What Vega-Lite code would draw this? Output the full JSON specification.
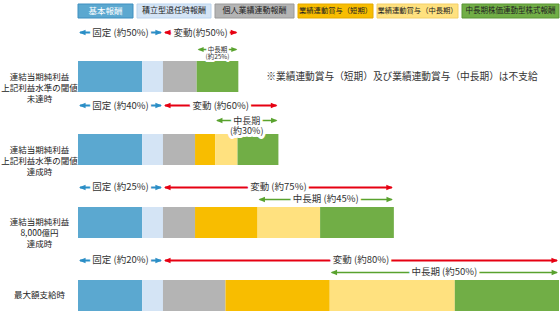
{
  "$schema": "https://vega.github.io/schema/vega-lite/v6.json",
  "padding": {"left": 0, "top": 3, "right": 0, "bottom": 0},
  "config": {"view": {"stroke": null}, "font": "Noto Sans CJK JP"},
  "datasets": {
    "legend": [
      {"comp": "基本報酬"}, {"comp": "積立型退任時報酬"}, {"comp": "個人業績連動報酬"},
      {"comp": "業績連動賞与（短期）"}, {"comp": "業績連動賞与（中長期）"}, {"comp": "中長期株価連動型株式報酬"}
    ],
    "bars": [
      {"r": 1, "row": "連結当期純利益|上記利益水準の閾値|未達時", "k": 1, "comp": "基本報酬", "amount": 40},
      {"r": 1, "row": "連結当期純利益|上記利益水準の閾値|未達時", "k": 2, "comp": "積立型退任時報酬", "amount": 13},
      {"r": 1, "row": "連結当期純利益|上記利益水準の閾値|未達時", "k": 3, "comp": "個人業績連動報酬", "amount": 21},
      {"r": 1, "row": "連結当期純利益|上記利益水準の閾値|未達時", "k": 6, "comp": "中長期株価連動型株式報酬", "amount": 26},
      {"r": 2, "row": "連結当期純利益|上記利益水準の閾値|達成時", "k": 1, "comp": "基本報酬", "amount": 40},
      {"r": 2, "row": "連結当期純利益|上記利益水準の閾値|達成時", "k": 2, "comp": "積立型退任時報酬", "amount": 13},
      {"r": 2, "row": "連結当期純利益|上記利益水準の閾値|達成時", "k": 3, "comp": "個人業績連動報酬", "amount": 20},
      {"r": 2, "row": "連結当期純利益|上記利益水準の閾値|達成時", "k": 4, "comp": "業績連動賞与（短期）", "amount": 12.5},
      {"r": 2, "row": "連結当期純利益|上記利益水準の閾値|達成時", "k": 5, "comp": "業績連動賞与（中長期）", "amount": 14},
      {"r": 2, "row": "連結当期純利益|上記利益水準の閾値|達成時", "k": 6, "comp": "中長期株価連動型株式報酬", "amount": 25.5},
      {"r": 3, "row": "連結当期純利益|8,000億円|達成時", "k": 1, "comp": "基本報酬", "amount": 40},
      {"r": 3, "row": "連結当期純利益|8,000億円|達成時", "k": 2, "comp": "積立型退任時報酬", "amount": 13},
      {"r": 3, "row": "連結当期純利益|8,000億円|達成時", "k": 3, "comp": "個人業績連動報酬", "amount": 20},
      {"r": 3, "row": "連結当期純利益|8,000億円|達成時", "k": 4, "comp": "業績連動賞与（短期）", "amount": 39},
      {"r": 3, "row": "連結当期純利益|8,000億円|達成時", "k": 5, "comp": "業績連動賞与（中長期）", "amount": 39},
      {"r": 3, "row": "連結当期純利益|8,000億円|達成時", "k": 6, "comp": "中長期株価連動型株式報酬", "amount": 46},
      {"r": 4, "row": "最大額支給時", "k": 1, "comp": "基本報酬", "amount": 40},
      {"r": 4, "row": "最大額支給時", "k": 2, "comp": "積立型退任時報酬", "amount": 13},
      {"r": 4, "row": "最大額支給時", "k": 3, "comp": "個人業績連動報酬", "amount": 39},
      {"r": 4, "row": "最大額支給時", "k": 4, "comp": "業績連動賞与（短期）", "amount": 65},
      {"r": 4, "row": "最大額支給時", "k": 5, "comp": "業績連動賞与（中長期）", "amount": 78},
      {"r": 4, "row": "最大額支給時", "k": 6, "comp": "中長期株価連動型株式報酬", "amount": 65}
    ],
    "ann": [
      {"r": 1, "row": "連結当期純利益|上記利益水準の閾値|未達時", "kind": "固定", "start": 0, "end": 53, "label": "固定 (約50%)"},
      {"r": 1, "row": "連結当期純利益|上記利益水準の閾値|未達時", "kind": "変動", "start": 53, "end": 100, "label": "変動(約50%)"},
      {"r": 1, "row": "連結当期純利益|上記利益水準の閾値|未達時", "kind": "中長期", "start": 74, "end": 100, "label": "中長期|(約25%)"},
      {"r": 2, "row": "連結当期純利益|上記利益水準の閾値|達成時", "kind": "固定", "start": 0, "end": 53, "label": "固定 (約40%)"},
      {"r": 2, "row": "連結当期純利益|上記利益水準の閾値|達成時", "kind": "変動", "start": 53, "end": 125, "label": "変動 (約60%)"},
      {"r": 2, "row": "連結当期純利益|上記利益水準の閾値|達成時", "kind": "中長期", "start": 85.5, "end": 125, "label": "中長期|(約30%)"},
      {"r": 3, "row": "連結当期純利益|8,000億円|達成時", "kind": "固定", "start": 0, "end": 53, "label": "固定 (約25%)"},
      {"r": 3, "row": "連結当期純利益|8,000億円|達成時", "kind": "変動", "start": 53, "end": 197, "label": "変動 (約75%)"},
      {"r": 3, "row": "連結当期純利益|8,000億円|達成時", "kind": "中長期", "start": 112, "end": 197, "label": "中長期 (約45%)"},
      {"r": 4, "row": "最大額支給時", "kind": "固定", "start": 0, "end": 53, "label": "固定 (約20%)"},
      {"r": 4, "row": "最大額支給時", "kind": "変動", "start": 53, "end": 300, "label": "変動 (約80%)"},
      {"r": 4, "row": "最大額支給時", "kind": "中長期", "start": 157, "end": 300, "label": "中長期 (約50%)"}
    ]
  },
  "spacing": 8,
  "vconcat": [
    {
      "spacing": 4,
      "bounds": "flush",
      "hconcat": [
        {"width": 55, "height": 14, "data": {"name": "legend"}, "transform": [{"filter": "datum.comp === '基本報酬'"}],
         "layer": [
           {"mark": {"type": "rect", "fill": "#5ba8d0", "stroke": "#3f8fc0", "strokeWidth": 1}, "encoding": {"x": {"field": "comp", "type": "nominal", "axis": null}, "y": {"field": "comp", "type": "nominal", "axis": null}}},
           {"mark": {"type": "text", "fill": "white", "fontSize": 8.5}, "encoding": {"x": {"field": "comp", "type": "nominal", "axis": null}, "y": {"field": "comp", "type": "nominal", "axis": null}, "text": {"field": "comp"}}}
         ]},
        {"width": 74, "height": 14, "data": {"name": "legend"}, "transform": [{"filter": "datum.comp === '積立型退任時報酬'"}],
         "layer": [
           {"mark": {"type": "rect", "fill": "#d4e4f5", "stroke": "#bcd5ee", "strokeWidth": 1}, "encoding": {"x": {"field": "comp", "type": "nominal", "axis": null}, "y": {"field": "comp", "type": "nominal", "axis": null}}},
           {"mark": {"type": "text", "fill": "#222222", "fontSize": 8}, "encoding": {"x": {"field": "comp", "type": "nominal", "axis": null}, "y": {"field": "comp", "type": "nominal", "axis": null}, "text": {"field": "comp"}}}
         ]},
        {"width": 79, "height": 14, "data": {"name": "legend"}, "transform": [{"filter": "datum.comp === '個人業績連動報酬'"}],
         "layer": [
           {"mark": {"type": "rect", "fill": "#b4b4b4", "stroke": "#9a9a9a", "strokeWidth": 1}, "encoding": {"x": {"field": "comp", "type": "nominal", "axis": null}, "y": {"field": "comp", "type": "nominal", "axis": null}}},
           {"mark": {"type": "text", "fill": "#222222", "fontSize": 8}, "encoding": {"x": {"field": "comp", "type": "nominal", "axis": null}, "y": {"field": "comp", "type": "nominal", "axis": null}, "text": {"field": "comp"}}}
         ]},
        {"width": 75, "height": 14, "data": {"name": "legend"}, "transform": [{"filter": "datum.comp === '業績連動賞与（短期）'"}],
         "layer": [
           {"mark": {"type": "rect", "fill": "#f8bd00", "stroke": "#e3a900", "strokeWidth": 1}, "encoding": {"x": {"field": "comp", "type": "nominal", "axis": null}, "y": {"field": "comp", "type": "nominal", "axis": null}}},
           {"mark": {"type": "text", "fill": "#222222", "fontSize": 7.3}, "encoding": {"x": {"field": "comp", "type": "nominal", "axis": null}, "y": {"field": "comp", "type": "nominal", "axis": null}, "text": {"field": "comp"}}}
         ]},
        {"width": 81, "height": 14, "data": {"name": "legend"}, "transform": [{"filter": "datum.comp === '業績連動賞与（中長期）'"}],
         "layer": [
           {"mark": {"type": "rect", "fill": "#ffe17f", "stroke": "#f3d068", "strokeWidth": 1}, "encoding": {"x": {"field": "comp", "type": "nominal", "axis": null}, "y": {"field": "comp", "type": "nominal", "axis": null}}},
           {"mark": {"type": "text", "fill": "#222222", "fontSize": 7.3}, "encoding": {"x": {"field": "comp", "type": "nominal", "axis": null}, "y": {"field": "comp", "type": "nominal", "axis": null}, "text": {"field": "comp"}}}
         ]},
        {"width": 97, "height": 14, "data": {"name": "legend"}, "transform": [{"filter": "datum.comp === '中長期株価連動型株式報酬'"}],
         "layer": [
           {"mark": {"type": "rect", "fill": "#71ae46", "stroke": "#5a9535", "strokeWidth": 1}, "encoding": {"x": {"field": "comp", "type": "nominal", "axis": null}, "y": {"field": "comp", "type": "nominal", "axis": null}}},
           {"mark": {"type": "text", "fill": "#222222", "fontSize": 7.5}, "encoding": {"x": {"field": "comp", "type": "nominal", "axis": null}, "y": {"field": "comp", "type": "nominal", "axis": null}, "text": {"field": "comp"}}}
         ]}
      ]
    },
    {
      "width": 481,
      "height": 250,
      "layer": [
        {
          "data": {"name": "bars"},
          "mark": {"type": "bar"},
          "encoding": {
            "x": {"field": "amount", "type": "quantitative", "stack": "zero", "axis": null, "scale": {"domain": [0, 300], "nice": false}},
            "y": {"field": "row", "type": "nominal", "title": null,
                  "scale": {"domain": ["連結当期純利益|上記利益水準の閾値|未達時", "連結当期純利益|上記利益水準の閾値|達成時", "連結当期純利益|8,000億円|達成時", "最大額支給時"], "paddingInner": 0.575, "paddingOuter": 0},
                  "axis": {"domain": false, "ticks": false, "labelAlign": "center", "labelBaseline": "middle", "labelPadding": 39, "labelFontSize": 8.5, "labelLineHeight": 11, "labelColor": "#222222", "labelExpr": "split(datum.label, '|')"}},
            "color": {"field": "comp", "type": "nominal", "legend": null,
                      "scale": {"domain": ["基本報酬", "積立型退任時報酬", "個人業績連動報酬", "業績連動賞与（短期）", "業績連動賞与（中長期）", "中長期株価連動型株式報酬"],
                                "range": ["#5ba8d0", "#d4e4f5", "#b4b4b4", "#f8bd00", "#ffe17f", "#71ae46"]}},
            "order": {"field": "k", "type": "quantitative"}
          }
        },
        {
          "data": {"values": [{"row": "連結当期純利益|上記利益水準の閾値|未達時", "after": 100, "note": "※業績連動賞与（短期）及び業績連動賞与（中長期）は不支給"}]},
          "mark": {"type": "text", "align": "left", "dx": 28, "fontSize": 9.7, "fill": "#333333"},
          "encoding": {"x": {"field": "after", "type": "quantitative"}, "y": {"field": "row", "type": "nominal"}, "text": {"field": "note"}}
        },
        {
          "data": {"name": "ann"},
          "transform": [{"filter": "datum.kind !== '中長期' && datum.r <= 2"}, {"calculate": "(datum.start + datum.end) / 2", "as": "mid"}],
          "layer": [
            {"mark": {"type": "rule", "strokeWidth": 1.8, "yOffset": -44, "xOffset": 2, "x2Offset": -2},
             "encoding": {"x": {"field": "start", "type": "quantitative"}, "x2": {"field": "end"}, "y": {"field": "row", "type": "nominal"},
                          "stroke": {"field": "kind", "type": "nominal", "legend": null, "scale": {"domain": ["固定", "変動", "中長期"], "range": ["#2b8ec6", "#e60012", "#59a22e"]}}}},
            {"mark": {"type": "point", "shape": "M0,0L2.4,-1L2.4,1Z", "filled": true, "size": 30, "opacity": 1, "strokeWidth": 0, "yOffset": -44, "xOffset": 1},
             "encoding": {"x": {"field": "start", "type": "quantitative"}, "y": {"field": "row", "type": "nominal"},
                          "fill": {"field": "kind", "type": "nominal", "legend": null, "scale": {"domain": ["固定", "変動", "中長期"], "range": ["#2b8ec6", "#e60012", "#59a22e"]}}}},
            {"mark": {"type": "point", "shape": "M0,0L-2.4,-1L-2.4,1Z", "filled": true, "size": 30, "opacity": 1, "strokeWidth": 0, "yOffset": -44, "xOffset": -1},
             "encoding": {"x": {"field": "end", "type": "quantitative"}, "y": {"field": "row", "type": "nominal"},
                          "fill": {"field": "kind", "type": "nominal", "legend": null, "scale": {"domain": ["固定", "変動", "中長期"], "range": ["#2b8ec6", "#e60012", "#59a22e"]}}}},
            {"mark": {"type": "text", "fontSize": 9.5, "lineBreak": "|", "fill": "white", "stroke": "white", "strokeWidth": 6, "strokeJoin": "round", "yOffset": -44},
             "encoding": {"x": {"field": "mid", "type": "quantitative"}, "y": {"field": "row", "type": "nominal"}, "text": {"field": "label"}}},
            {"mark": {"type": "text", "fontSize": 9.5, "lineBreak": "|", "fill": "#333333", "yOffset": -44},
             "encoding": {"x": {"field": "mid", "type": "quantitative"}, "y": {"field": "row", "type": "nominal"}, "text": {"field": "label"}}}
          ]
        },
        {
          "data": {"name": "ann"},
          "transform": [{"filter": "datum.kind !== '中長期' && datum.r >= 3"}, {"calculate": "(datum.start + datum.end) / 2", "as": "mid"}],
          "layer": [
            {"mark": {"type": "rule", "strokeWidth": 1.8, "yOffset": -35, "xOffset": 2, "x2Offset": -2},
             "encoding": {"x": {"field": "start", "type": "quantitative"}, "x2": {"field": "end"}, "y": {"field": "row", "type": "nominal"},
                          "stroke": {"field": "kind", "type": "nominal", "legend": null, "scale": {"domain": ["固定", "変動", "中長期"], "range": ["#2b8ec6", "#e60012", "#59a22e"]}}}},
            {"mark": {"type": "point", "shape": "M0,0L2.4,-1L2.4,1Z", "filled": true, "size": 30, "opacity": 1, "strokeWidth": 0, "yOffset": -35, "xOffset": 1},
             "encoding": {"x": {"field": "start", "type": "quantitative"}, "y": {"field": "row", "type": "nominal"},
                          "fill": {"field": "kind", "type": "nominal", "legend": null, "scale": {"domain": ["固定", "変動", "中長期"], "range": ["#2b8ec6", "#e60012", "#59a22e"]}}}},
            {"mark": {"type": "point", "shape": "M0,0L-2.4,-1L-2.4,1Z", "filled": true, "size": 30, "opacity": 1, "strokeWidth": 0, "yOffset": -35, "xOffset": -1},
             "encoding": {"x": {"field": "end", "type": "quantitative"}, "y": {"field": "row", "type": "nominal"},
                          "fill": {"field": "kind", "type": "nominal", "legend": null, "scale": {"domain": ["固定", "変動", "中長期"], "range": ["#2b8ec6", "#e60012", "#59a22e"]}}}},
            {"mark": {"type": "text", "fontSize": 9.5, "lineBreak": "|", "fill": "white", "stroke": "white", "strokeWidth": 6, "strokeJoin": "round", "yOffset": -35},
             "encoding": {"x": {"field": "mid", "type": "quantitative"}, "y": {"field": "row", "type": "nominal"}, "text": {"field": "label"}}},
            {"mark": {"type": "text", "fontSize": 9.5, "lineBreak": "|", "fill": "#333333", "yOffset": -35},
             "encoding": {"x": {"field": "mid", "type": "quantitative"}, "y": {"field": "row", "type": "nominal"}, "text": {"field": "label"}}}
          ]
        },
        {
          "data": {"name": "ann"},
          "transform": [{"filter": "datum.kind === '中長期' && datum.r === 1"}, {"calculate": "(datum.start + datum.end) / 2", "as": "mid"}],
          "layer": [
            {"mark": {"type": "rule", "strokeWidth": 1.6, "yOffset": -27, "xOffset": 2, "x2Offset": -2},
             "encoding": {"x": {"field": "start", "type": "quantitative"}, "x2": {"field": "end"}, "y": {"field": "row", "type": "nominal"},
                          "stroke": {"field": "kind", "type": "nominal", "legend": null, "scale": {"domain": ["固定", "変動", "中長期"], "range": ["#2b8ec6", "#e60012", "#59a22e"]}}}},
            {"mark": {"type": "point", "shape": "M0,0L2.4,-1L2.4,1Z", "filled": true, "size": 25, "opacity": 1, "strokeWidth": 0, "yOffset": -27, "xOffset": 1},
             "encoding": {"x": {"field": "start", "type": "quantitative"}, "y": {"field": "row", "type": "nominal"},
                          "fill": {"field": "kind", "type": "nominal", "legend": null, "scale": {"domain": ["固定", "変動", "中長期"], "range": ["#2b8ec6", "#e60012", "#59a22e"]}}}},
            {"mark": {"type": "point", "shape": "M0,0L-2.4,-1L-2.4,1Z", "filled": true, "size": 25, "opacity": 1, "strokeWidth": 0, "yOffset": -27, "xOffset": -1},
             "encoding": {"x": {"field": "end", "type": "quantitative"}, "y": {"field": "row", "type": "nominal"},
                          "fill": {"field": "kind", "type": "nominal", "legend": null, "scale": {"domain": ["固定", "変動", "中長期"], "range": ["#2b8ec6", "#e60012", "#59a22e"]}}}},
            {"mark": {"type": "text", "fontSize": 6.5, "lineHeight": 7.5, "lineBreak": "|", "fill": "white", "stroke": "white", "strokeWidth": 4, "strokeJoin": "round", "yOffset": -27},
             "encoding": {"x": {"field": "mid", "type": "quantitative"}, "y": {"field": "row", "type": "nominal"}, "text": {"field": "label"}}},
            {"mark": {"type": "text", "fontSize": 6.5, "lineHeight": 7.5, "lineBreak": "|", "fill": "#333333", "yOffset": -27},
             "encoding": {"x": {"field": "mid", "type": "quantitative"}, "y": {"field": "row", "type": "nominal"}, "text": {"field": "label"}}}
          ]
        },
        {
          "data": {"name": "ann"},
          "transform": [{"filter": "datum.kind === '中長期' && datum.r === 2"}, {"calculate": "(datum.start + datum.end) / 2", "as": "mid"}],
          "layer": [
            {"mark": {"type": "rule", "strokeWidth": 1.6, "yOffset": -29, "xOffset": 2, "x2Offset": -2},
             "encoding": {"x": {"field": "start", "type": "quantitative"}, "x2": {"field": "end"}, "y": {"field": "row", "type": "nominal"},
                          "stroke": {"field": "kind", "type": "nominal", "legend": null, "scale": {"domain": ["固定", "変動", "中長期"], "range": ["#2b8ec6", "#e60012", "#59a22e"]}}}},
            {"mark": {"type": "point", "shape": "M0,0L2.4,-1L2.4,1Z", "filled": true, "size": 28, "opacity": 1, "strokeWidth": 0, "yOffset": -29, "xOffset": 1},
             "encoding": {"x": {"field": "start", "type": "quantitative"}, "y": {"field": "row", "type": "nominal"},
                          "fill": {"field": "kind", "type": "nominal", "legend": null, "scale": {"domain": ["固定", "変動", "中長期"], "range": ["#2b8ec6", "#e60012", "#59a22e"]}}}},
            {"mark": {"type": "point", "shape": "M0,0L-2.4,-1L-2.4,1Z", "filled": true, "size": 28, "opacity": 1, "strokeWidth": 0, "yOffset": -29, "xOffset": -1},
             "encoding": {"x": {"field": "end", "type": "quantitative"}, "y": {"field": "row", "type": "nominal"},
                          "fill": {"field": "kind", "type": "nominal", "legend": null, "scale": {"domain": ["固定", "変動", "中長期"], "range": ["#2b8ec6", "#e60012", "#59a22e"]}}}},
            {"mark": {"type": "text", "fontSize": 9, "lineHeight": 10, "lineBreak": "|", "fill": "white", "stroke": "white", "strokeWidth": 6, "strokeJoin": "round", "yOffset": -29},
             "encoding": {"x": {"field": "mid", "type": "quantitative"}, "y": {"field": "row", "type": "nominal"}, "text": {"field": "label"}}},
            {"mark": {"type": "text", "fontSize": 9, "lineHeight": 10, "lineBreak": "|", "fill": "#333333", "yOffset": -29},
             "encoding": {"x": {"field": "mid", "type": "quantitative"}, "y": {"field": "row", "type": "nominal"}, "text": {"field": "label"}}}
          ]
        },
        {
          "data": {"name": "ann"},
          "transform": [{"filter": "datum.kind === '中長期' && datum.r >= 3"}, {"calculate": "(datum.start + datum.end) / 2", "as": "mid"}],
          "layer": [
            {"mark": {"type": "rule", "strokeWidth": 1.6, "yOffset": -23, "xOffset": 2, "x2Offset": -2},
             "encoding": {"x": {"field": "start", "type": "quantitative"}, "x2": {"field": "end"}, "y": {"field": "row", "type": "nominal"},
                          "stroke": {"field": "kind", "type": "nominal", "legend": null, "scale": {"domain": ["固定", "変動", "中長期"], "range": ["#2b8ec6", "#e60012", "#59a22e"]}}}},
            {"mark": {"type": "point", "shape": "M0,0L2.4,-1L2.4,1Z", "filled": true, "size": 28, "opacity": 1, "strokeWidth": 0, "yOffset": -23, "xOffset": 1},
             "encoding": {"x": {"field": "start", "type": "quantitative"}, "y": {"field": "row", "type": "nominal"},
                          "fill": {"field": "kind", "type": "nominal", "legend": null, "scale": {"domain": ["固定", "変動", "中長期"], "range": ["#2b8ec6", "#e60012", "#59a22e"]}}}},
            {"mark": {"type": "point", "shape": "M0,0L-2.4,-1L-2.4,1Z", "filled": true, "size": 28, "opacity": 1, "strokeWidth": 0, "yOffset": -23, "xOffset": -1},
             "encoding": {"x": {"field": "end", "type": "quantitative"}, "y": {"field": "row", "type": "nominal"},
                          "fill": {"field": "kind", "type": "nominal", "legend": null, "scale": {"domain": ["固定", "変動", "中長期"], "range": ["#2b8ec6", "#e60012", "#59a22e"]}}}},
            {"mark": {"type": "text", "fontSize": 9.5, "lineBreak": "|", "fill": "white", "stroke": "white", "strokeWidth": 6, "strokeJoin": "round", "yOffset": -23},
             "encoding": {"x": {"field": "mid", "type": "quantitative"}, "y": {"field": "row", "type": "nominal"}, "text": {"field": "label"}}},
            {"mark": {"type": "text", "fontSize": 9.5, "lineBreak": "|", "fill": "#333333", "yOffset": -23},
             "encoding": {"x": {"field": "mid", "type": "quantitative"}, "y": {"field": "row", "type": "nominal"}, "text": {"field": "label"}}}
          ]
        }
      ]
    }
  ]
}
